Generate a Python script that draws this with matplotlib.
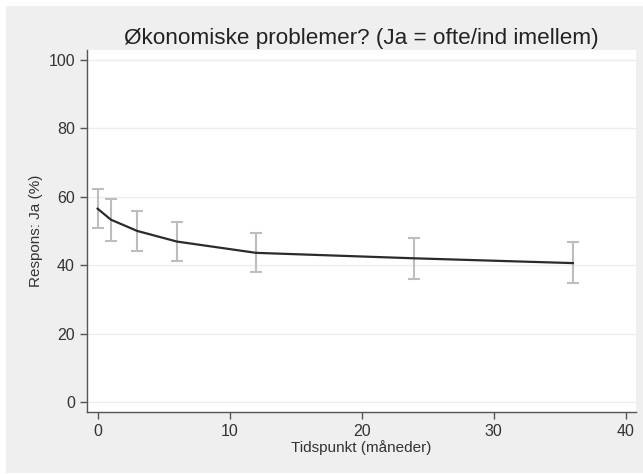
import matplotlib
matplotlib.use("Agg")
import matplotlib.pyplot as plt
from matplotlib.patches import Rectangle

months = [0, 1, 3, 6, 12, 24, 36]
pct_yes = [56.5, 53.3, 50.0, 46.9, 43.6, 42.0, 40.6]
ci_low = [50.9, 47.1, 44.1, 41.2, 38.0, 35.9, 34.8]
ci_high = [62.2, 59.2, 55.8, 52.6, 49.5, 48.0, 46.8]
x_ticks = [0, 10, 20, 30, 40]
y_ticks = [0, 20, 40, 60, 80, 100]

plt.rcParams['font.family'] = ['Liberation Sans', 'DejaVu Sans']

W, H = 643, 474
fig = plt.figure(figsize=(W / 100, H / 100), dpi=100)
fig.patch.set_facecolor('white')
fig.patches.append(Rectangle((6 / W, 1 - 473 / H), 637 / W, 467 / H,
                             transform=fig.transFigure, facecolor='#efefef',
                             edgecolor='none', zorder=-10))

ax = fig.add_axes([86.7 / W, 1 - 411.7 / H, (636 - 86.7) / W, (411.7 - 50) / H])
ax.set_facecolor('white')

err_lo = [p - l for p, l in zip(pct_yes, ci_low)]
err_hi = [h - p for p, h in zip(pct_yes, ci_high)]
ax.errorbar(months, pct_yes, yerr=[err_lo, err_hi], fmt='none',
            ecolor='#bdbdbd', elinewidth=1.5, capsize=4.5, capthick=1.5, zorder=2)
ax.plot(months, pct_yes, color='#2b2b2b', lw=1.6, zorder=3)

ax.set_xlim(-0.83, 40.78)
ax.set_ylim(-2.84, 102.9)
ax.set_xticks(x_ticks)
ax.set_yticks(y_ticks)
ax.yaxis.grid(True, color='#ececec', lw=1)
ax.set_axisbelow(True)
for s in ['top', 'right']:
    ax.spines[s].set_visible(False)
for s in ['left', 'bottom']:
    ax.spines[s].set_color('#555555')
    ax.spines[s].set_linewidth(1.0)
ax.tick_params(axis='both', colors='#555555', labelcolor='#333333',
               labelsize=11.5, length=5, width=1)

ax.set_title('Økonomiske problemer? (Ja = ofte/ind imellem)', fontsize=16.2,
             color='#222222', pad=4)
ax.set_xlabel('Tidspunkt (måneder)', fontsize=11, color='#333333', labelpad=1)
ax.set_ylabel('Respons: Ja (%)', fontsize=11, color='#333333', labelpad=4)

fig.savefig('out.png', dpi=100, facecolor=fig.get_facecolor())
